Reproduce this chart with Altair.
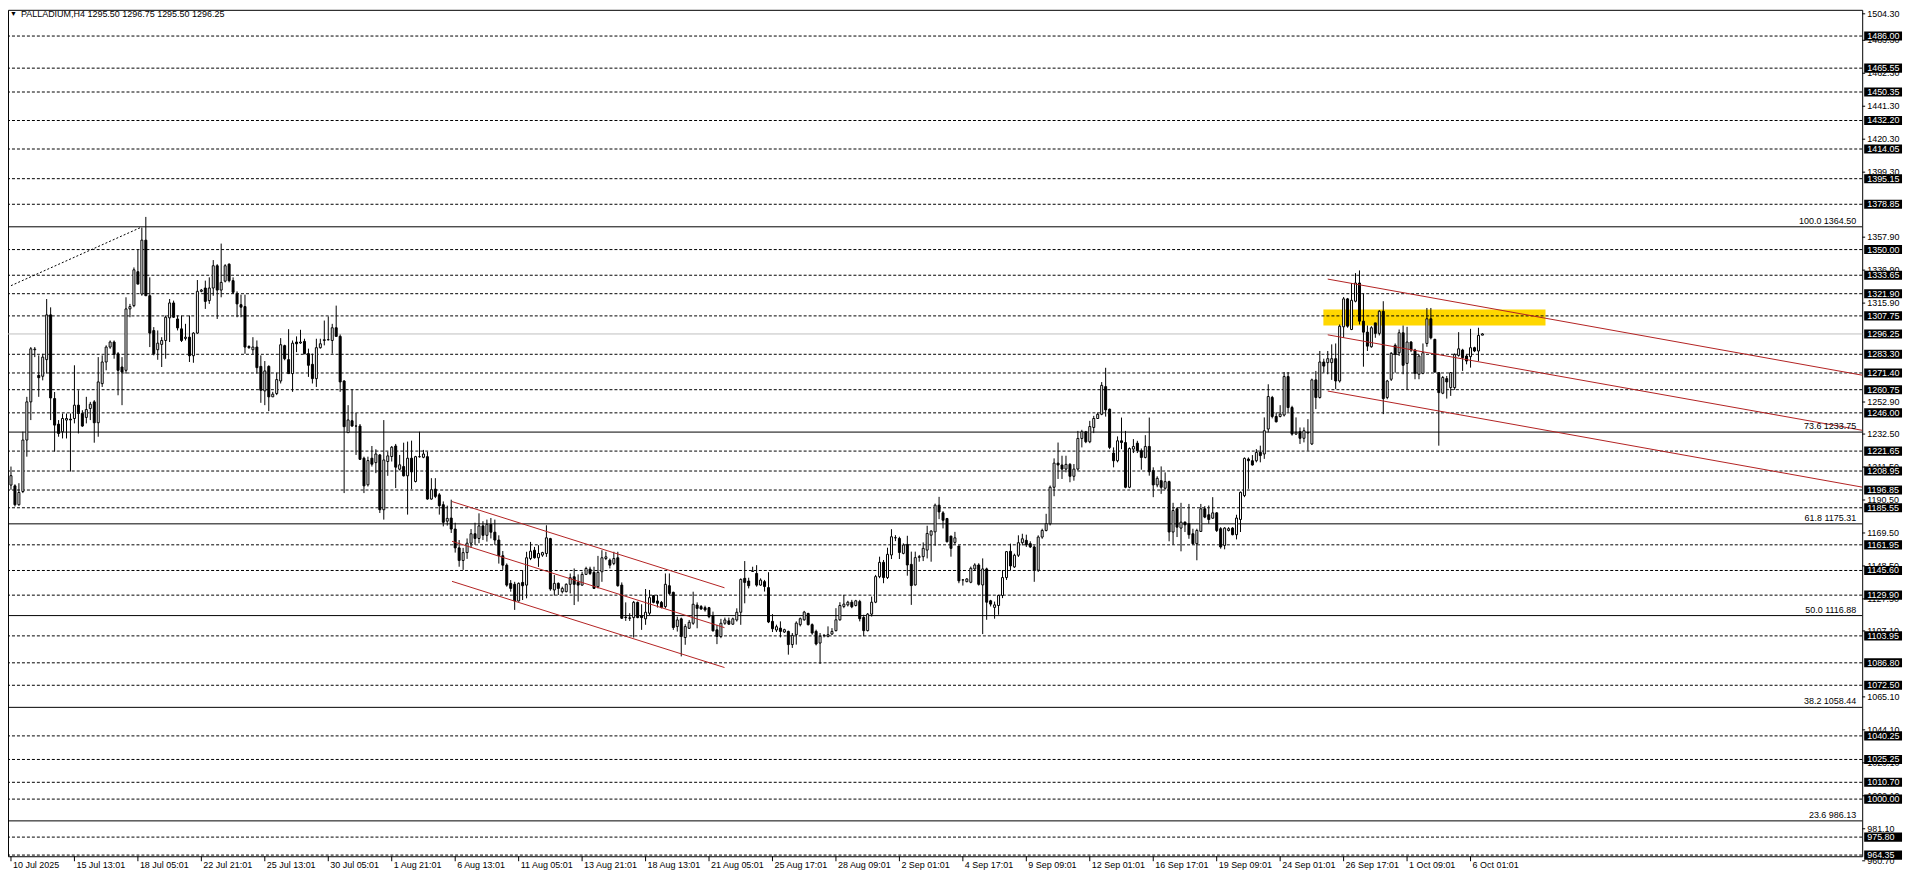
import altair as alt
import pandas as pd

TITLE = "PALLADIUM,H4  1295.50 1296.75 1295.50 1296.25"

OPEN = [
 1200.0, 1199.5, 1187.5, 1195.9, 1228.7, 1253.0, 1286.2, 1269.9, 1269.3, 1279.9,
 1308.4, 1255.1, 1238.8, 1234.0, 1241.4, 1242.0, 1242.4, 1250.9, 1245.6, 1243.1,
 1248.8, 1253.0, 1239.7, 1264.6, 1278.4, 1287.9, 1291.1, 1283.6, 1275.2, 1273.1,
 1312.2, 1314.3, 1335.9, 1321.7, 1356.0, 1320.6, 1298.4, 1286.2, 1289.6, 1292.1,
 1306.5, 1316.0, 1305.8, 1299.5, 1293.4, 1294.2, 1282.4, 1296.8, 1323.4, 1325.5,
 1317.5, 1325.5, 1339.7, 1324.2, 1329.9, 1340.7, 1330.2, 1322.1, 1314.9, 1313.7,
 1288.3, 1286.2, 1287.9, 1275.6, 1260.0, 1275.6, 1256.2, 1258.3, 1266.3, 1288.8,
 1279.9, 1271.0, 1291.1, 1290.5, 1291.5, 1283.7, 1276.9, 1267.8, 1287.5, 1292.1,
 1292.6, 1292.1, 1300.2, 1294.7, 1266.3, 1233.4, 1241.0, 1237.6, 1237.6, 1217.1,
 1200.2, 1217.1, 1214.3, 1219.2, 1184.3, 1215.0, 1218.2, 1224.9, 1210.1, 1211.8,
 1205.9, 1217.1, 1202.3, 1218.1, 1217.7, 1218.1, 1191.1, 1197.4, 1193.8, 1187.5,
 1177.0, 1179.0, 1172.0, 1160.0, 1152.0, 1157.0, 1163.0, 1169.0, 1166.0, 1174.0,
 1168.0, 1175.0, 1170.0, 1165.0, 1155.0, 1149.0, 1137.4, 1136.8, 1126.2, 1138.0,
 1136.3, 1153.2, 1158.5, 1153.7, 1155.4, 1156.4, 1165.9, 1133.2, 1137.4, 1132.1,
 1132.1, 1136.8, 1141.6, 1138.0, 1136.3, 1143.1, 1146.5, 1144.4, 1135.3, 1144.8,
 1153.2, 1152.2, 1150.1, 1153.7, 1136.3, 1115.9, 1115.4, 1115.6, 1125.3, 1116.9,
 1114.8, 1118.4, 1129.6, 1126.2, 1125.3, 1122.6, 1135.9, 1131.7, 1109.9, 1114.8,
 1102.9, 1108.8, 1112.0, 1123.6, 1122.6, 1121.9, 1121.9, 1116.9, 1107.8, 1103.6,
 1112.0, 1113.5, 1111.4, 1114.1, 1119.0, 1140.6, 1138.9, 1145.0, 1143.7, 1136.3,
 1138.5, 1134.7, 1113.2, 1107.7, 1108.9, 1106.4, 1106.8, 1098.4, 1104.7, 1111.1,
 1114.2, 1118.2, 1111.1, 1106.8, 1099.4, 1104.1, 1103.7, 1105.1, 1107.3, 1114.2,
 1122.7, 1123.7, 1125.4, 1123.3, 1125.8, 1115.7, 1107.3, 1117.8, 1125.4, 1141.7,
 1150.8, 1141.1, 1155.5, 1166.4, 1166.0, 1156.5, 1162.2, 1149.5, 1136.4, 1154.0,
 1154.4, 1158.6, 1168.1, 1170.2, 1187.2, 1182.3, 1178.7, 1167.5, 1163.5, 1161.2,
 1139.6, 1138.5, 1138.1, 1146.6, 1149.1, 1136.4, 1146.6, 1126.3, 1122.1, 1123.3,
 1129.7, 1141.1, 1157.8, 1147.9, 1155.3, 1163.3, 1164.8, 1162.7, 1160.6, 1145.8,
 1166.9, 1171.1, 1175.4, 1198.6, 1214.0, 1212.8, 1210.2, 1213.2, 1205.6, 1210.2,
 1229.7, 1233.9, 1227.6, 1236.7, 1242.4, 1245.1, 1262.7, 1248.3, 1220.4, 1215.5,
 1228.2, 1227.1, 1198.6, 1222.9, 1226.7, 1221.9, 1217.6, 1224.6, 1209.2, 1200.1,
 1202.8, 1198.0, 1202.2, 1170.1, 1184.9, 1172.6, 1176.4, 1175.4, 1169.0, 1162.7,
 1170.5, 1184.9, 1181.1, 1178.9, 1182.3, 1172.2, 1161.6, 1171.1, 1172.6, 1168.4,
 1178.1, 1193.3, 1216.6, 1215.5, 1215.5, 1220.9, 1219.8, 1235.7, 1255.8, 1243.7,
 1243.7, 1244.6, 1269.1, 1249.4, 1232.5, 1234.0, 1229.8, 1233.6, 1226.2, 1267.0,
 1255.8, 1278.4, 1278.0, 1278.0, 1280.5, 1266.3, 1300.8, 1318.6, 1299.1, 1317.1,
 1328.7, 1304.4, 1297.4, 1288.1, 1303.3, 1296.6, 1310.7, 1255.8, 1267.4, 1289.0,
 1284.3, 1297.0, 1277.5, 1291.1, 1286.0, 1270.6, 1271.2, 1290.2, 1305.9, 1292.8,
 1271.6, 1258.5, 1267.8, 1262.1, 1262.1, 1282.6, 1286.0, 1282.2, 1281.8, 1287.5,
 1285.4, 1295.50,
]

HIGH = [
 1211.8, 1200.5, 1201.2, 1234.0, 1256.2, 1287.9, 1287.9, 1282.6, 1283.6, 1318.5,
 1313.2, 1259.3, 1241.4, 1245.6, 1245.6, 1245.6, 1276.3, 1260.4, 1247.7, 1256.2,
 1253.0, 1254.1, 1281.5, 1282.6, 1289.0, 1292.1, 1292.1, 1284.7, 1281.5, 1319.6,
 1315.4, 1338.6, 1350.2, 1364.0, 1370.8, 1332.3, 1300.6, 1298.5, 1294.2, 1308.0,
 1318.5, 1317.5, 1308.0, 1308.0, 1302.7, 1308.0, 1297.4, 1330.6, 1324.9, 1330.2,
 1332.3, 1343.3, 1340.7, 1353.8, 1340.7, 1341.2, 1332.3, 1323.4, 1321.3, 1321.3,
 1289.0, 1294.2, 1292.1, 1282.6, 1279.0, 1276.3, 1259.4, 1271.6, 1293.6, 1289.4,
 1299.3, 1292.1, 1294.7, 1298.9, 1293.2, 1286.9, 1283.7, 1293.2, 1293.2, 1304.8,
 1307.4, 1302.7, 1314.3, 1295.9, 1266.8, 1250.9, 1260.9, 1246.0, 1238.9, 1218.1,
 1218.1, 1224.9, 1222.8, 1219.8, 1241.4, 1221.3, 1224.9, 1226.2, 1219.2, 1227.0,
 1227.7, 1228.3, 1218.6, 1234.0, 1222.4, 1221.3, 1204.4, 1204.4, 1194.9, 1189.6,
 1186.9, 1190.7, 1176.0, 1165.0, 1160.0, 1166.0, 1172.0, 1176.0, 1182.0, 1177.0,
 1178.0, 1179.0, 1178.0, 1168.0, 1158.0, 1150.1, 1139.5, 1138.4, 1138.0, 1145.8,
 1157.5, 1163.8, 1160.6, 1161.7, 1157.5, 1174.4, 1166.4, 1142.7, 1138.0, 1135.3,
 1137.4, 1143.7, 1146.9, 1143.1, 1144.8, 1148.0, 1148.0, 1148.0, 1154.9, 1158.5,
 1157.5, 1153.2, 1157.5, 1157.5, 1138.0, 1125.3, 1118.4, 1126.2, 1125.8, 1124.1,
 1133.8, 1133.2, 1130.0, 1130.0, 1126.2, 1143.7, 1143.7, 1132.1, 1116.2, 1115.6,
 1111.4, 1114.1, 1132.1, 1125.3, 1123.6, 1123.2, 1122.4, 1119.4, 1111.0, 1114.8,
 1115.6, 1115.6, 1115.6, 1121.5, 1140.6, 1151.6, 1141.0, 1148.0, 1149.0, 1140.6,
 1139.6, 1144.5, 1117.8, 1111.1, 1113.2, 1108.5, 1107.3, 1105.8, 1113.2, 1115.7,
 1119.9, 1118.7, 1111.9, 1107.9, 1105.8, 1105.1, 1110.0, 1108.9, 1121.6, 1125.4,
 1130.1, 1126.3, 1126.9, 1126.9, 1126.9, 1117.4, 1118.5, 1129.0, 1142.8, 1154.4,
 1152.3, 1160.1, 1171.9, 1168.1, 1167.1, 1162.9, 1167.7, 1157.6, 1157.6, 1155.5,
 1163.5, 1174.1, 1171.3, 1188.2, 1192.5, 1183.4, 1179.1, 1167.7, 1170.2, 1161.4,
 1140.2, 1140.7, 1148.1, 1150.2, 1150.2, 1153.3, 1147.4, 1126.9, 1125.8, 1130.1,
 1145.9, 1158.0, 1162.7, 1156.3, 1168.0, 1169.0, 1168.4, 1164.2, 1161.6, 1168.0,
 1172.2, 1181.7, 1199.7, 1217.0, 1227.1, 1218.7, 1218.7, 1214.0, 1213.4, 1234.5,
 1235.2, 1234.5, 1240.9, 1244.1, 1246.2, 1265.6, 1274.7, 1248.7, 1224.0, 1231.0,
 1243.0, 1234.5, 1224.0, 1229.3, 1228.2, 1223.3, 1231.8, 1243.0, 1211.3, 1205.6,
 1211.9, 1208.1, 1202.8, 1188.7, 1185.9, 1188.7, 1176.8, 1188.0, 1172.2, 1172.2,
 1188.0, 1186.6, 1187.0, 1192.3, 1182.8, 1173.2, 1173.2, 1173.2, 1173.2, 1181.1,
 1195.9, 1217.6, 1217.6, 1219.1, 1222.9, 1225.1, 1243.1, 1264.2, 1256.8, 1246.3,
 1250.9, 1272.0, 1272.0, 1250.5, 1243.1, 1236.7, 1236.7, 1242.0, 1267.8, 1272.7,
 1285.4, 1280.5, 1285.4, 1289.6, 1290.2, 1302.3, 1319.8, 1319.2, 1328.7, 1335.0,
 1336.7, 1322.1, 1301.6, 1301.2, 1303.3, 1311.4, 1317.1, 1267.0, 1284.7, 1290.2,
 1299.1, 1301.6, 1300.8, 1291.7, 1286.8, 1283.2, 1290.2, 1312.8, 1312.8, 1293.2,
 1272.0, 1269.5, 1269.5, 1272.0, 1283.9, 1297.4, 1286.8, 1283.2, 1299.5, 1288.1,
 1300.2, 1296.75,
]

LOW = [
 1197.0, 1186.4, 1186.8, 1194.9, 1218.1, 1241.4, 1281.5, 1256.2, 1266.7, 1271.0,
 1241.4, 1221.3, 1230.8, 1229.7, 1229.7, 1208.6, 1239.3, 1232.9, 1237.1, 1239.3,
 1241.4, 1227.0, 1230.8, 1262.5, 1273.1, 1286.8, 1280.5, 1257.2, 1250.9, 1271.0,
 1306.9, 1313.3, 1328.0, 1320.6, 1320.6, 1287.9, 1282.6, 1279.8, 1275.2, 1280.5,
 1291.1, 1306.5, 1298.5, 1291.1, 1292.1, 1278.4, 1277.9, 1296.3, 1322.8, 1312.2,
 1315.4, 1320.6, 1305.8, 1319.6, 1329.1, 1329.1, 1321.7, 1306.9, 1306.9, 1283.6,
 1286.8, 1283.2, 1271.0, 1252.4, 1250.9, 1247.1, 1256.2, 1257.3, 1264.7, 1279.5,
 1271.0, 1259.4, 1284.7, 1290.0, 1283.3, 1268.9, 1264.7, 1262.5, 1286.9, 1289.0,
 1292.1, 1283.7, 1294.7, 1259.4, 1194.9, 1233.4, 1237.2, 1219.2, 1216.0, 1194.9,
 1199.1, 1211.8, 1207.6, 1182.2, 1178.0, 1205.9, 1215.0, 1198.1, 1209.3, 1205.5,
 1181.2, 1197.4, 1201.7, 1217.5, 1217.1, 1190.7, 1190.7, 1191.7, 1181.2, 1173.7,
 1174.2, 1169.5, 1157.0, 1148.0, 1146.0, 1153.0, 1160.0, 1162.0, 1163.0, 1165.0,
 1164.0, 1166.0, 1162.0, 1150.0, 1146.0, 1135.3, 1132.1, 1120.5, 1125.8, 1126.8,
 1127.9, 1152.2, 1153.2, 1147.9, 1154.3, 1154.3, 1132.7, 1129.6, 1130.0, 1131.0,
 1131.7, 1131.0, 1123.6, 1125.8, 1135.9, 1142.7, 1142.7, 1133.8, 1134.2, 1138.4,
 1152.2, 1146.9, 1149.0, 1135.3, 1114.8, 1113.5, 1113.5, 1102.9, 1115.2, 1107.8,
 1111.0, 1117.3, 1124.7, 1122.0, 1121.5, 1121.5, 1130.0, 1107.8, 1106.7, 1090.9,
 1098.3, 1108.4, 1111.0, 1108.8, 1120.5, 1119.4, 1115.2, 1106.7, 1098.7, 1102.5,
 1111.0, 1111.0, 1111.0, 1113.1, 1111.0, 1124.7, 1134.2, 1144.8, 1135.3, 1135.9,
 1132.2, 1112.1, 1106.4, 1106.4, 1103.0, 1105.8, 1092.0, 1096.3, 1098.4, 1110.0,
 1113.6, 1110.6, 1104.7, 1097.9, 1086.1, 1103.0, 1103.0, 1104.7, 1106.8, 1113.6,
 1121.6, 1122.7, 1121.6, 1122.7, 1113.2, 1103.7, 1106.8, 1116.3, 1124.8, 1140.7,
 1137.5, 1140.2, 1152.9, 1164.3, 1152.9, 1155.9, 1142.3, 1123.7, 1136.0, 1151.2,
 1151.6, 1153.3, 1151.2, 1161.4, 1178.3, 1172.4, 1163.5, 1154.4, 1162.2, 1137.5,
 1136.0, 1138.1, 1137.5, 1145.3, 1136.0, 1105.1, 1114.2, 1122.7, 1114.9, 1117.4,
 1128.0, 1139.6, 1145.8, 1147.2, 1154.2, 1161.6, 1160.6, 1159.9, 1138.4, 1144.7,
 1165.8, 1170.5, 1174.3, 1192.9, 1203.9, 1203.9, 1208.1, 1201.8, 1202.8, 1209.2,
 1224.0, 1226.7, 1226.7, 1233.1, 1243.6, 1244.5, 1243.6, 1222.9, 1211.3, 1214.5,
 1222.9, 1198.0, 1198.0, 1220.4, 1220.4, 1209.8, 1217.0, 1206.0, 1192.3, 1198.6,
 1194.4, 1197.1, 1164.2, 1162.0, 1166.9, 1157.8, 1170.1, 1165.8, 1162.0, 1152.1,
 1170.1, 1178.9, 1175.4, 1178.5, 1170.1, 1159.5, 1159.1, 1170.5, 1168.0, 1165.4,
 1170.1, 1192.3, 1197.6, 1212.4, 1214.5, 1214.5, 1216.7, 1233.6, 1242.5, 1239.9,
 1243.1, 1243.7, 1246.3, 1231.5, 1231.9, 1226.2, 1227.2, 1221.9, 1225.5, 1248.4,
 1255.1, 1271.6, 1270.6, 1267.0, 1261.1, 1265.3, 1293.8, 1300.2, 1298.7, 1316.4,
 1302.3, 1275.4, 1285.4, 1287.5, 1293.8, 1295.3, 1245.2, 1254.7, 1266.3, 1271.6,
 1282.2, 1270.6, 1260.6, 1284.7, 1267.4, 1267.4, 1270.6, 1288.1, 1292.8, 1271.6,
 1225.1, 1257.9, 1255.1, 1256.8, 1260.6, 1281.8, 1272.7, 1276.9, 1274.8, 1284.7,
 1279.0, 1295.50,
]

CLOSE = [
 1206.0, 1187.5, 1195.3, 1228.7, 1253.0, 1286.8, 1286.6, 1268.4, 1281.5, 1308.4,
 1255.5, 1238.2, 1232.9, 1242.4, 1242.4, 1241.5, 1250.9, 1245.6, 1237.6, 1248.1,
 1251.5, 1239.7, 1265.7, 1278.4, 1287.9, 1291.1, 1283.2, 1273.1, 1272.0, 1312.2,
 1313.7, 1337.1, 1328.0, 1356.0, 1320.6, 1296.8, 1283.6, 1290.4, 1292.1, 1306.9,
 1316.0, 1306.9, 1300.1, 1292.1, 1294.2, 1282.4, 1296.8, 1323.4, 1324.2, 1317.0,
 1325.5, 1339.7, 1324.2, 1329.1, 1339.7, 1330.2, 1322.8, 1315.4, 1313.3, 1287.9,
 1287.5, 1287.9, 1274.8, 1260.4, 1272.7, 1256.2, 1257.9, 1267.2, 1289.4, 1280.5,
 1271.0, 1290.4, 1290.0, 1291.1, 1283.7, 1276.3, 1267.8, 1287.5, 1290.0, 1292.6,
 1292.6, 1300.2, 1294.7, 1265.7, 1237.2, 1241.5, 1237.6, 1237.6, 1216.4, 1199.5,
 1215.6, 1213.3, 1219.8, 1184.3, 1216.0, 1218.6, 1224.1, 1211.4, 1212.9, 1205.9,
 1217.1, 1208.4, 1218.1, 1218.1, 1219.8, 1191.1, 1197.0, 1192.8, 1186.9, 1176.3,
 1178.8, 1172.0, 1160.0, 1152.0, 1157.0, 1163.0, 1169.0, 1166.0, 1174.0, 1168.0,
 1175.0, 1170.0, 1165.0, 1155.0, 1149.0, 1136.3, 1134.2, 1126.2, 1137.4, 1135.9,
 1153.7, 1157.9, 1153.7, 1156.4, 1157.0, 1166.4, 1133.8, 1137.4, 1134.2, 1134.2,
 1136.8, 1141.0, 1136.8, 1136.3, 1143.1, 1146.9, 1143.7, 1134.2, 1144.4, 1153.7,
 1154.3, 1149.0, 1153.2, 1135.9, 1115.2, 1115.6, 1115.2, 1125.3, 1115.6, 1115.6,
 1119.0, 1128.3, 1125.3, 1124.7, 1122.0, 1136.8, 1131.0, 1109.3, 1114.1, 1103.6,
 1109.9, 1112.6, 1124.1, 1121.5, 1121.1, 1120.5, 1116.2, 1107.2, 1103.6, 1112.0,
 1114.1, 1111.4, 1114.8, 1119.0, 1139.9, 1138.0, 1135.9, 1145.2, 1136.3, 1139.5,
 1135.4, 1112.8, 1108.5, 1109.8, 1106.8, 1107.9, 1098.4, 1104.3, 1112.1, 1114.9,
 1119.1, 1111.1, 1105.8, 1098.8, 1103.7, 1104.3, 1104.7, 1106.8, 1114.2, 1123.3,
 1124.2, 1125.4, 1122.5, 1126.3, 1114.9, 1107.3, 1117.8, 1125.4, 1141.7, 1150.8,
 1141.1, 1155.9, 1167.1, 1166.5, 1157.1, 1161.8, 1149.1, 1136.0, 1153.8, 1154.4,
 1159.7, 1169.2, 1170.7, 1187.2, 1182.9, 1177.6, 1163.9, 1159.7, 1166.4, 1139.0,
 1139.6, 1140.2, 1147.0, 1149.1, 1136.8, 1146.6, 1125.4, 1124.2, 1123.7, 1129.7,
 1141.1, 1157.6, 1148.5, 1155.3, 1163.3, 1165.8, 1162.0, 1160.6, 1145.8, 1166.9,
 1171.1, 1175.4, 1198.6, 1214.0, 1212.8, 1210.2, 1213.2, 1205.6, 1210.2, 1229.7,
 1233.9, 1227.6, 1237.3, 1242.4, 1245.1, 1263.5, 1247.9, 1224.0, 1215.5, 1228.2,
 1227.1, 1198.6, 1223.3, 1224.6, 1221.9, 1217.6, 1224.6, 1208.5, 1200.1, 1204.3,
 1198.6, 1202.2, 1170.1, 1183.8, 1173.2, 1176.4, 1174.7, 1168.4, 1162.7, 1171.1,
 1184.9, 1179.6, 1178.1, 1182.3, 1171.1, 1160.6, 1172.6, 1172.2, 1168.4, 1179.0,
 1195.4, 1217.0, 1215.5, 1212.8, 1220.8, 1218.8, 1234.6, 1256.4, 1243.7, 1240.3,
 1245.2, 1269.1, 1249.4, 1232.5, 1233.6, 1229.8, 1234.6, 1233.2, 1267.0, 1255.8,
 1278.4, 1275.8, 1280.5, 1280.5, 1266.3, 1301.2, 1318.6, 1301.2, 1317.7, 1328.7,
 1304.4, 1297.4, 1288.5, 1300.2, 1296.6, 1310.7, 1255.1, 1266.3, 1283.9, 1283.2,
 1297.0, 1276.3, 1291.1, 1286.0, 1271.2, 1282.2, 1284.3, 1305.9, 1293.8, 1272.0,
 1258.9, 1268.5, 1265.7, 1271.6, 1283.2, 1286.8, 1281.1, 1279.0, 1287.5, 1285.4,
 1295.3, 1296.25,
]

DATE_LABELS = [
 "10 Jul 2025", "15 Jul 13:01", "18 Jul 05:01", "22 Jul 21:01", "25 Jul 13:01",
 "30 Jul 05:01", "1 Aug 21:01", "6 Aug 13:01", "11 Aug 05:01", "13 Aug 21:01",
 "18 Aug 13:01", "21 Aug 05:01", "25 Aug 17:01", "28 Aug 09:01", "2 Sep 01:01",
 "4 Sep 17:01", "9 Sep 09:01", "12 Sep 01:01", "16 Sep 17:01", "19 Sep 09:01",
 "24 Sep 01:01", "26 Sep 17:01", "1 Oct 09:01", "6 Oct 01:01",
]
DATE_BARS = [0, 16, 32, 48, 64, 80, 96, 112, 128, 144, 160, 176, 192, 208, 224,
             240, 256, 272, 288, 304, 320, 336, 352, 368]

LEVELS = [1486.00, 1465.55, 1450.35, 1432.20, 1414.05, 1395.15, 1378.85, 1350.00,
          1333.65, 1321.90, 1307.75, 1283.30, 1271.40, 1260.75, 1246.00, 1221.65,
          1208.95, 1196.85, 1185.55, 1161.95, 1145.60, 1129.90, 1103.95, 1086.80,
          1072.50, 1040.25, 1025.25, 1010.70, 1000.00, 975.80, 964.35]
CURRENT_PRICE = 1296.25

FIB_PCT = ["100.0", "73.6", "61.8", "50.0", "38.2", "23.6"]
FIB_PRICE = [1364.50, 1233.75, 1175.31, 1116.88, 1058.44, 986.13]

TOP_TICK = "1504.30"
AXIS_TICKS = [1483.30, 1462.30, 1441.30, 1420.30, 1399.30, 1357.90,
              1336.90, 1315.90, 1252.90, 1232.50, 1211.50, 1190.50,
              1169.50, 1148.50, 1127.50, 1107.10, 1065.10, 1044.10, 1023.10,
              1002.10, 981.10, 960.70]

ZONE_BARS = [330.9, 386.9]
ZONE_PRICES = [1301.6, 1311.8]

FIB_LINE_BARS = [0.0, 33.0]
FIB_LINE_PRICES = [1327.0, 1364.4]

AUG_BARS = [111.2, 179.9]
AUG_START = [1189.5, 1164.2, 1138.7]
AUG_END = [1134.6, 1109.2, 1083.8]
SEP_BARS = [332.0, 466.75]
SEP_START = [1331.2, 1295.7, 1259.9]
SEP_END = [1270.0, 1234.9, 1198.7]

# ---------------------------------------------------------------- chart
W, H = 1862, 850
XD = [-0.75, 466.75]
YD = [963.6, 1502.7]
FONT = "Tahoma, Liberation Sans, Arial, sans-serif"
FS = 9
RED = "#B22222"

xs = alt.Scale(domain=XD, nice=False, zero=False)
ys = alt.Scale(domain=YD, nice=False, zero=False)


def X(f):
    return alt.X(f, type="quantitative", scale=xs, axis=None)


def Y(f):
    return alt.Y(f, type="quantitative", scale=ys, axis=None)


n = min(len(OPEN), len(HIGH), len(LOW), len(CLOSE))
cd = pd.DataFrame({
    "k": list(range(n)),
    "o": OPEN[:n], "h": HIGH[:n], "l": LOW[:n], "c": CLOSE[:n],
})
cd["h"] = cd[["h", "o", "c"]].max(axis=1)
cd["l"] = cd[["l", "o", "c"]].min(axis=1)
cd["x1"] = cd["k"] - 0.25
cd["x2"] = cd["k"] + 0.25

zone = alt.Chart(pd.DataFrame({"a": [ZONE_BARS[0]], "b": [ZONE_BARS[1]],
                               "p": [ZONE_PRICES[0]], "q": [ZONE_PRICES[1]]})).mark_rect(
    color="#FFD700").encode(x=X("a"), x2="b", y=Y("p"), y2="q")

lv = pd.DataFrame({"p": LEVELS})
dashed = alt.Chart(lv).mark_rule(color="black", strokeWidth=1, strokeDash=[3, 2]).encode(y=Y("p"))

fd = pd.DataFrame({"p": FIB_PRICE,
                   "t": [f"{a} {b:.2f}" for a, b in zip(FIB_PCT, FIB_PRICE)]})
fibl = alt.Chart(fd).mark_rule(color="black", strokeWidth=1).encode(y=Y("p"))
fibt = alt.Chart(fd).mark_text(align="right", baseline="alphabetic", dy=-3, font=FONT,
                               fontSize=FS, color="black").encode(
    x=alt.value(W - 6), y=Y("p"), text="t:N")

cur = alt.Chart(pd.DataFrame({"p": [CURRENT_PRICE]})).mark_rule(
    color="#C0C0C0", strokeWidth=1).encode(y=Y("p"))

fibline = alt.Chart(pd.DataFrame({"a": [FIB_LINE_BARS[0]], "b": [FIB_LINE_BARS[1]],
                                  "p": [FIB_LINE_PRICES[0]], "q": [FIB_LINE_PRICES[1]]})).mark_rule(
    color="black", strokeWidth=1, strokeDash=[2, 2]).encode(x=X("a"), x2="b", y=Y("p"), y2="q")

chd = pd.DataFrame({
    "a": [AUG_BARS[0]] * 3 + [SEP_BARS[0]] * 3,
    "b": [AUG_BARS[1]] * 3 + [SEP_BARS[1]] * 3,
    "p": AUG_START + SEP_START,
    "q": AUG_END + SEP_END,
})
chan = alt.Chart(chd).mark_rule(color=RED, strokeWidth=1).encode(
    x=X("a"), x2="b", y=Y("p"), y2="q")

wicks = alt.Chart(cd).mark_rule(color="black", strokeWidth=1).encode(
    x=X("k"), y=Y("l"), y2="h")
bodies = alt.Chart(cd).mark_rect(stroke="black", strokeWidth=1).encode(
    x=X("x1"), x2="x2", y=Y("o"), y2="c",
    fill=alt.condition("datum.c >= datum.o", alt.value("white"), alt.value("black")))

# right price axis
td = pd.DataFrame({"p": AXIS_TICKS, "t": [f"{v:.2f}" for v in AXIS_TICKS]})
aticks = alt.Chart(td).mark_rule(color="black").encode(
    x=alt.value(W), x2=alt.value(W + 3), y=Y("p"))
alabels = alt.Chart(td).mark_text(align="left", baseline="middle", font=FONT, fontSize=FS,
                                  color="black").encode(x=alt.value(W + 5), y=Y("p"), text="t:N")
toplab = alt.Chart(pd.DataFrame({"t": [TOP_TICK]})).mark_text(
    align="left", baseline="middle", font=FONT, fontSize=FS, color="black").encode(
    x=alt.value(W + 5), y=alt.value(4), text="t:N")
toptick = alt.Chart(pd.DataFrame({"t": [TOP_TICK]})).mark_rule(color="black").encode(
    x=alt.value(W), x2=alt.value(W + 3), y=alt.value(4))

bx = pd.DataFrame({"p": LEVELS + [CURRENT_PRICE]})
bx["lo"] = bx["p"] - 2.9
bx["hi"] = bx["p"] + 2.9
bx["t"] = [f"{v:.2f}" for v in bx["p"]]
boxes = alt.Chart(bx).mark_rect(color="black").encode(
    x=alt.value(W + 2), x2=alt.value(W + 40), y=Y("lo"), y2="hi")
boxt = alt.Chart(bx).mark_text(align="left", baseline="middle", font=FONT, fontSize=FS,
                               color="white").encode(x=alt.value(W + 5), y=Y("p"), text="t:N")

# time axis
dd = pd.DataFrame({"k": DATE_BARS, "t": DATE_LABELS})
dticks = alt.Chart(dd).mark_rule(color="black").encode(
    x=X("k"), y=alt.value(H), y2=alt.value(H + 5))
dlabels = alt.Chart(dd).mark_text(align="left", baseline="middle", font=FONT, fontSize=FS,
                                  color="black", dx=2).encode(
    x=X("k"), y=alt.value(H + 9), text="t:N")

# header
hd = pd.DataFrame({"t": ["\u25BC"], "u": [TITLE]})
tri = alt.Chart(hd).mark_text(align="left", baseline="middle", fontSize=7, color="black").encode(
    x=alt.value(2), y=alt.value(4), text="t:N")
ttl = alt.Chart(hd).mark_text(align="left", baseline="middle", font=FONT, fontSize=FS,
                              color="black").encode(x=alt.value(13), y=alt.value(4), text="u:N")

chart = alt.layer(
    zone, dashed, fibl, cur, fibline, wicks, bodies, chan, fibt,
    aticks, alabels, toptick, toplab, boxes, boxt, dticks, dlabels, tri, ttl,
).properties(
    width=W, height=H,
    autosize=alt.AutoSizeParams(type="none"),
    padding={"left": 0, "top": 0, "right": 46, "bottom": 16},
    background="white",
).configure_view(stroke="black", strokeWidth=1)

chart.save("out.html", embed_options={"renderer": "svg", "actions": False})
